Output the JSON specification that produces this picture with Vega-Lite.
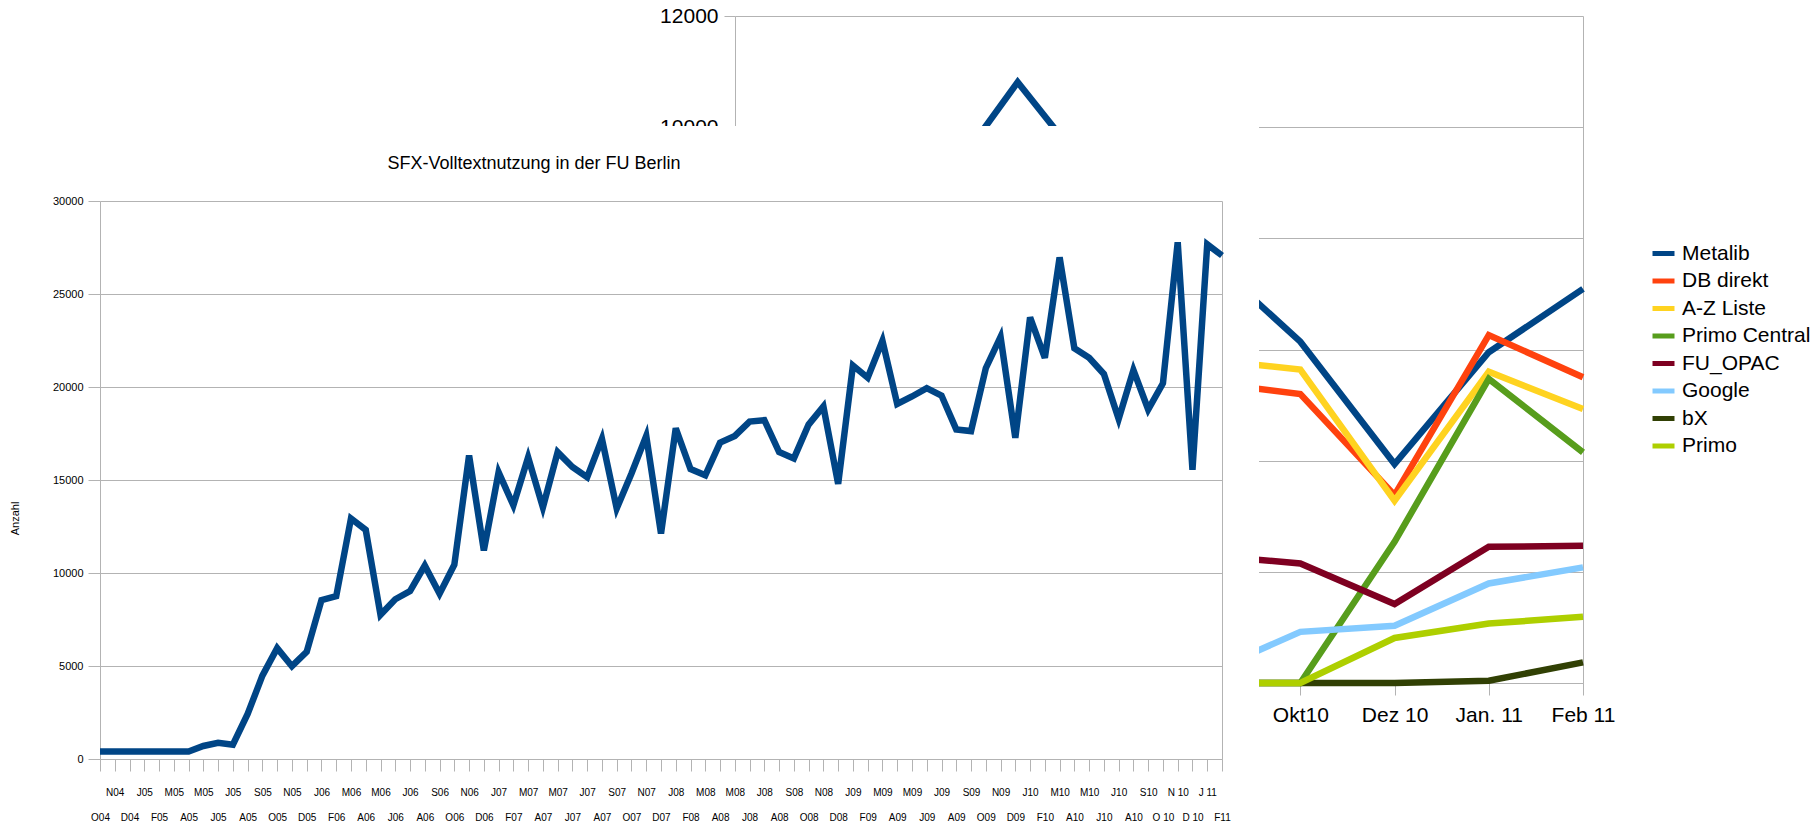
{
  "$schema": "https://vega.github.io/schema/vega-lite/v6.json",
  "padding": 0,
  "background": "white",
  "spacing": 0,
  "bounds": "flush",
  "config": {
    "view": {"stroke": null},
    "font": "Liberation Sans",
    "axis": {
      "labelFont": "Liberation Sans",
      "titleFont": "Liberation Sans",
      "labelColor": "#000000",
      "titleColor": "#000000",
      "domainColor": "#b3b3b3",
      "tickColor": "#b3b3b3",
      "gridColor": "#b3b3b3",
      "domainWidth": 1,
      "tickWidth": 1,
      "gridWidth": 1,
      "titleFontWeight": "normal"
    },
    "title": {"font": "Liberation Sans", "fontWeight": "normal", "color": "#000000"}
  },
  "vconcat": [
    {
      "width": 1583,
      "height": 126,
      "data": {
        "values": [
          {"monat": "Apr10", "quelle": "Metalib", "wert": 7600},
          {"monat": "Mai10", "quelle": "Metalib", "wert": 8200},
          {"monat": "Jun10", "quelle": "Metalib", "wert": 8470},
          {"monat": "Jul10", "quelle": "Metalib", "wert": 10810},
          {"monat": "Aug10", "quelle": "Metalib", "wert": 8680},
          {"monat": "Sep10", "quelle": "Metalib", "wert": 7690},
          {"monat": "Okt10", "quelle": "Metalib", "wert": 6140},
          {"monat": "Dez 10", "quelle": "Metalib", "wert": 3940},
          {"monat": "Jan. 11", "quelle": "Metalib", "wert": 5950},
          {"monat": "Feb 11", "quelle": "Metalib", "wert": 7090},
          {"monat": "Apr10", "quelle": "DB direkt", "wert": 4900},
          {"monat": "Mai10", "quelle": "DB direkt", "wert": 5100},
          {"monat": "Jun10", "quelle": "DB direkt", "wert": 5200},
          {"monat": "Jul10", "quelle": "DB direkt", "wert": 5700},
          {"monat": "Aug10", "quelle": "DB direkt", "wert": 5300},
          {"monat": "Sep10", "quelle": "DB direkt", "wert": 5410},
          {"monat": "Okt10", "quelle": "DB direkt", "wert": 5200},
          {"monat": "Dez 10", "quelle": "DB direkt", "wert": 3380},
          {"monat": "Jan. 11", "quelle": "DB direkt", "wert": 6260},
          {"monat": "Feb 11", "quelle": "DB direkt", "wert": 5500},
          {"monat": "Apr10", "quelle": "A-Z Liste", "wert": 5100},
          {"monat": "Mai10", "quelle": "A-Z Liste", "wert": 5300},
          {"monat": "Jun10", "quelle": "A-Z Liste", "wert": 5500},
          {"monat": "Jul10", "quelle": "A-Z Liste", "wert": 6000},
          {"monat": "Aug10", "quelle": "A-Z Liste", "wert": 5600},
          {"monat": "Sep10", "quelle": "A-Z Liste", "wert": 5820},
          {"monat": "Okt10", "quelle": "A-Z Liste", "wert": 5640},
          {"monat": "Dez 10", "quelle": "A-Z Liste", "wert": 3280},
          {"monat": "Jan. 11", "quelle": "A-Z Liste", "wert": 5600},
          {"monat": "Feb 11", "quelle": "A-Z Liste", "wert": 4930},
          {"monat": "Apr10", "quelle": "Primo Central", "wert": 0},
          {"monat": "Mai10", "quelle": "Primo Central", "wert": 0},
          {"monat": "Jun10", "quelle": "Primo Central", "wert": 0},
          {"monat": "Jul10", "quelle": "Primo Central", "wert": 0},
          {"monat": "Aug10", "quelle": "Primo Central", "wert": 0},
          {"monat": "Sep10", "quelle": "Primo Central", "wert": 0},
          {"monat": "Okt10", "quelle": "Primo Central", "wert": 0},
          {"monat": "Dez 10", "quelle": "Primo Central", "wert": 2540},
          {"monat": "Jan. 11", "quelle": "Primo Central", "wert": 5470},
          {"monat": "Feb 11", "quelle": "Primo Central", "wert": 4150},
          {"monat": "Apr10", "quelle": "FU_OPAC", "wert": 2000},
          {"monat": "Mai10", "quelle": "FU_OPAC", "wert": 2150},
          {"monat": "Jun10", "quelle": "FU_OPAC", "wert": 2200},
          {"monat": "Jul10", "quelle": "FU_OPAC", "wert": 2450},
          {"monat": "Aug10", "quelle": "FU_OPAC", "wert": 2300},
          {"monat": "Sep10", "quelle": "FU_OPAC", "wert": 2300},
          {"monat": "Okt10", "quelle": "FU_OPAC", "wert": 2150},
          {"monat": "Dez 10", "quelle": "FU_OPAC", "wert": 1420},
          {"monat": "Jan. 11", "quelle": "FU_OPAC", "wert": 2450},
          {"monat": "Feb 11", "quelle": "FU_OPAC", "wert": 2470},
          {"monat": "Apr10", "quelle": "Google", "wert": 0},
          {"monat": "Mai10", "quelle": "Google", "wert": 0},
          {"monat": "Jun10", "quelle": "Google", "wert": 0},
          {"monat": "Jul10", "quelle": "Google", "wert": 0},
          {"monat": "Aug10", "quelle": "Google", "wert": 0},
          {"monat": "Sep10", "quelle": "Google", "wert": 170},
          {"monat": "Okt10", "quelle": "Google", "wert": 920},
          {"monat": "Dez 10", "quelle": "Google", "wert": 1030},
          {"monat": "Jan. 11", "quelle": "Google", "wert": 1790},
          {"monat": "Feb 11", "quelle": "Google", "wert": 2080},
          {"monat": "Apr10", "quelle": "bX", "wert": 0},
          {"monat": "Mai10", "quelle": "bX", "wert": 0},
          {"monat": "Jun10", "quelle": "bX", "wert": 0},
          {"monat": "Jul10", "quelle": "bX", "wert": 0},
          {"monat": "Aug10", "quelle": "bX", "wert": 0},
          {"monat": "Sep10", "quelle": "bX", "wert": 0},
          {"monat": "Okt10", "quelle": "bX", "wert": 0},
          {"monat": "Dez 10", "quelle": "bX", "wert": 0},
          {"monat": "Jan. 11", "quelle": "bX", "wert": 40},
          {"monat": "Feb 11", "quelle": "bX", "wert": 370},
          {"monat": "Apr10", "quelle": "Primo", "wert": 0},
          {"monat": "Mai10", "quelle": "Primo", "wert": 0},
          {"monat": "Jun10", "quelle": "Primo", "wert": 0},
          {"monat": "Jul10", "quelle": "Primo", "wert": 0},
          {"monat": "Aug10", "quelle": "Primo", "wert": 0},
          {"monat": "Sep10", "quelle": "Primo", "wert": 0},
          {"monat": "Okt10", "quelle": "Primo", "wert": 0},
          {"monat": "Dez 10", "quelle": "Primo", "wert": 810},
          {"monat": "Jan. 11", "quelle": "Primo", "wert": 1070},
          {"monat": "Feb 11", "quelle": "Primo", "wert": 1190}
        ]
      },
      "layer": [
        {
          "mark": {"type": "line", "strokeWidth": 6.5},
          "encoding": {
            "x": {
              "field": "monat",
              "type": "ordinal",
              "sort": ["Apr10", "Mai10", "Jun10", "Jul10", "Aug10", "Sep10", "Okt10", "Dez 10", "Jan. 11", "Feb 11"],
              "scale": {"type": "point", "range": [735, 1583], "padding": 0},
              "axis": {
                "orient": "bottom",
                "offset": 557,
                "title": null,
                "labelAngle": 0,
                "labelFontSize": 21,
                "labelBaseline": "middle",
                "labelPadding": 20,
                "tickSize": 12,
                "labelOverlap": false,
                "labelFlush": false,
                "grid": false
              }
            },
            "y": {
              "field": "wert",
              "type": "quantitative",
              "scale": {"domain": [0, 12000], "range": [683, 16], "nice": false, "zero": false},
              "axis": {
                "orient": "left",
                "offset": -735,
                "title": null,
                "values": [0, 2000, 4000, 6000, 8000, 10000, 12000],
                "format": "d",
                "labelFontSize": 21,
                "tickSize": 11,
                "labelPadding": 6,
                "grid": true
              }
            },
            "color": {
              "field": "quelle",
              "type": "nominal",
              "scale": {
                "domain": ["Metalib", "DB direkt", "A-Z Liste", "Primo Central", "FU_OPAC", "Google", "bX", "Primo"],
                "range": ["#004586", "#ff420e", "#ffd320", "#579d1c", "#7e0021", "#83caff", "#314004", "#aecf00"]
              },
              "legend": {
                "orient": "none",
                "legendX": 1650,
                "legendY": 240,
                "title": null,
                "symbolType": "stroke",
                "symbolStrokeWidth": 5,
                "symbolSize": 484,
                "labelFontSize": 21,
                "labelFont": "Liberation Sans",
                "labelColor": "#000000",
                "rowPadding": 3.5,
                "labelOffset": 5,
                "padding": 0
              }
            }
          }
        },
        {
          "mark": {"type": "line", "strokeOpacity": 0},
          "encoding": {
            "x": {
              "field": "monat",
              "type": "ordinal",
              "sort": ["Apr10", "Mai10", "Jun10", "Jul10", "Aug10", "Sep10", "Okt10", "Dez 10", "Jan. 11", "Feb 11"]
            },
            "y": {
              "field": "wert",
              "type": "quantitative",
              "axis": {
                "orient": "right",
                "offset": 0,
                "title": null,
                "labels": false,
                "ticks": false,
                "grid": false,
                "domain": true
              }
            },
            "detail": {"field": "quelle"}
          }
        }
      ],
      "resolve": {"axis": {"y": "independent", "x": "shared"}}
    },
    {
      "width": 1259,
      "height": 699,
      "view": {"fill": "white", "stroke": null},
      "title": {
        "text": "SFX-Volltextnutzung in der FU Berlin",
        "fontSize": 18,
        "anchor": "middle",
        "frame": "group",
        "offset": -56,
        "dx": -95.5,
        "baseline": "middle"
      },
      "data": {
        "values": [
          {"monat": "2004-10", "anzahl": 400},
          {"monat": "2004-11", "anzahl": 400},
          {"monat": "2004-12", "anzahl": 400},
          {"monat": "2005-01", "anzahl": 400},
          {"monat": "2005-02", "anzahl": 400},
          {"monat": "2005-03", "anzahl": 400},
          {"monat": "2005-04", "anzahl": 400},
          {"monat": "2005-05", "anzahl": 700},
          {"monat": "2005-06", "anzahl": 870},
          {"monat": "2005-07", "anzahl": 770},
          {"monat": "2005-08", "anzahl": 2420},
          {"monat": "2005-09", "anzahl": 4480},
          {"monat": "2005-10", "anzahl": 5960},
          {"monat": "2005-11", "anzahl": 4990},
          {"monat": "2005-12", "anzahl": 5760},
          {"monat": "2006-01", "anzahl": 8540},
          {"monat": "2006-02", "anzahl": 8750},
          {"monat": "2006-03", "anzahl": 12930},
          {"monat": "2006-04", "anzahl": 12320},
          {"monat": "2006-05", "anzahl": 7750},
          {"monat": "2006-06", "anzahl": 8590},
          {"monat": "2006-07", "anzahl": 9030},
          {"monat": "2006-08", "anzahl": 10400},
          {"monat": "2006-09", "anzahl": 8890},
          {"monat": "2006-10", "anzahl": 10440},
          {"monat": "2006-11", "anzahl": 16320},
          {"monat": "2006-12", "anzahl": 11210},
          {"monat": "2007-01", "anzahl": 15410},
          {"monat": "2007-02", "anzahl": 13640},
          {"monat": "2007-03", "anzahl": 16220},
          {"monat": "2007-04", "anzahl": 13530},
          {"monat": "2007-05", "anzahl": 16500},
          {"monat": "2007-06", "anzahl": 15700},
          {"monat": "2007-07", "anzahl": 15150},
          {"monat": "2007-08", "anzahl": 17210},
          {"monat": "2007-09", "anzahl": 13470},
          {"monat": "2007-10", "anzahl": 15350},
          {"monat": "2007-11", "anzahl": 17370},
          {"monat": "2007-12", "anzahl": 12120},
          {"monat": "2008-01", "anzahl": 17780},
          {"monat": "2008-02", "anzahl": 15590},
          {"monat": "2008-03", "anzahl": 15250},
          {"monat": "2008-04", "anzahl": 17010},
          {"monat": "2008-05", "anzahl": 17370},
          {"monat": "2008-06", "anzahl": 18140},
          {"monat": "2008-07", "anzahl": 18220},
          {"monat": "2008-08", "anzahl": 16500},
          {"monat": "2008-09", "anzahl": 16160},
          {"monat": "2008-10", "anzahl": 17980},
          {"monat": "2008-11", "anzahl": 18950},
          {"monat": "2008-12", "anzahl": 14790},
          {"monat": "2009-01", "anzahl": 21150},
          {"monat": "2009-02", "anzahl": 20500},
          {"monat": "2009-03", "anzahl": 22480},
          {"monat": "2009-04", "anzahl": 19090},
          {"monat": "2009-05", "anzahl": 19490},
          {"monat": "2009-06", "anzahl": 19940},
          {"monat": "2009-07", "anzahl": 19540},
          {"monat": "2009-08", "anzahl": 17720},
          {"monat": "2009-09", "anzahl": 17630},
          {"monat": "2009-10", "anzahl": 21010},
          {"monat": "2009-11", "anzahl": 22690},
          {"monat": "2009-12", "anzahl": 17270},
          {"monat": "2010-01", "anzahl": 23740},
          {"monat": "2010-02", "anzahl": 21570},
          {"monat": "2010-03", "anzahl": 26970},
          {"monat": "2010-04", "anzahl": 22080},
          {"monat": "2010-05", "anzahl": 21570},
          {"monat": "2010-06", "anzahl": 20700},
          {"monat": "2010-07", "anzahl": 18280},
          {"monat": "2010-08", "anzahl": 20910},
          {"monat": "2010-09", "anzahl": 18790},
          {"monat": "2010-10", "anzahl": 20200},
          {"monat": "2010-11", "anzahl": 27780},
          {"monat": "2010-12", "anzahl": 15550},
          {"monat": "2011-01", "anzahl": 27670},
          {"monat": "2011-02", "anzahl": 27070}
        ]
      },
      "layer": [
        {
          "mark": {"type": "line", "strokeWidth": 6.5, "color": "#004586"},
          "encoding": {
            "x": {
              "field": "monat",
              "type": "ordinal",
              "scale": {"type": "point", "range": [100, 1222], "padding": 0},
              "axis": {
                "orient": "bottom",
                "offset": -66,
                "title": null,
                "labelAngle": 0,
                "labelFontSize": 10,
                "labelBaseline": "top",
                "labelLineHeight": 25,
                "labelPadding": 16,
                "tickSize": 12,
                "labelOverlap": false,
                "labelFlush": false,
                "labelExpr": "toNumber(slice(datum.value, 5, 7)) % 2 === 1 ? [substring('JFMAMJJASOND', toNumber(slice(datum.value, 5, 7)) - 1, toNumber(slice(datum.value, 5, 7))) + (datum.value >= '2010-10' && datum.value <= '2011-01' ? ' ' : '') + slice(datum.value, 2, 4)] : ['', substring('JFMAMJJASOND', toNumber(slice(datum.value, 5, 7)) - 1, toNumber(slice(datum.value, 5, 7))) + (datum.value >= '2010-10' && datum.value <= '2011-01' ? ' ' : '') + slice(datum.value, 2, 4)]",
                "grid": false
              }
            },
            "y": {
              "field": "anzahl",
              "type": "quantitative",
              "scale": {"domain": [0, 30000], "range": [633, 75], "nice": false, "zero": false},
              "axis": {
                "orient": "left",
                "offset": -100,
                "values": [0, 5000, 10000, 15000, 20000, 25000, 30000],
                "format": "d",
                "labelFontSize": 11,
                "tickSize": 12,
                "labelPadding": 5,
                "grid": true,
                "title": "Anzahl",
                "titleFontSize": 11,
                "titleX": -85,
                "titleY": 392,
                "titleBaseline": "middle"
              }
            }
          }
        },
        {
          "mark": {"type": "line", "strokeOpacity": 0},
          "encoding": {
            "x": {"field": "monat", "type": "ordinal"},
            "y": {
              "field": "anzahl",
              "type": "quantitative",
              "axis": {
                "orient": "right",
                "offset": -37,
                "title": null,
                "labels": false,
                "ticks": false,
                "grid": false,
                "domain": true
              }
            }
          }
        }
      ],
      "resolve": {"axis": {"y": "independent", "x": "shared"}}
    }
  ]
}
